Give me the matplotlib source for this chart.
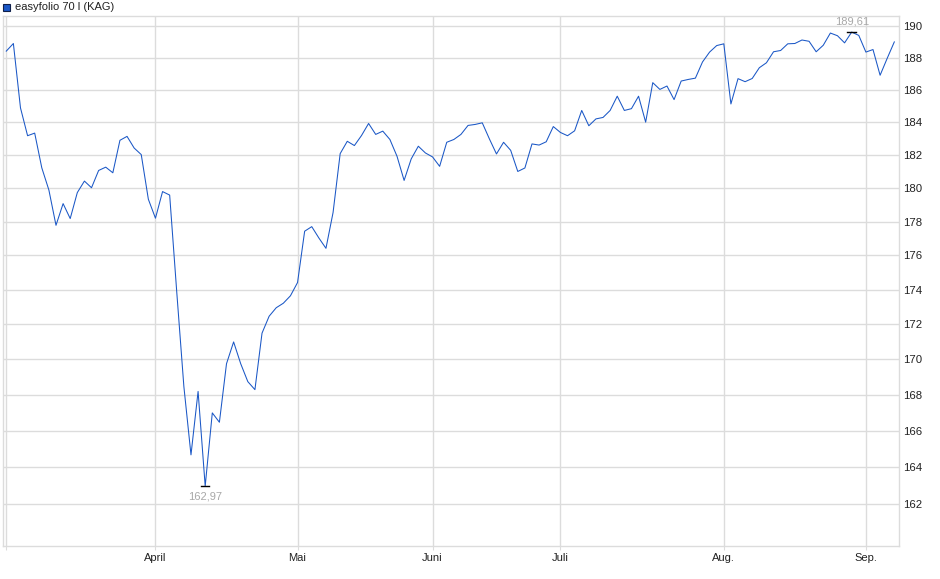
import matplotlib
matplotlib.use("Agg")
import matplotlib.pyplot as plt
from matplotlib.ticker import FixedLocator, NullLocator, FuncFormatter
import numpy as np

plt.rcParams['font.family'] = ['Liberation Sans', 'DejaVu Sans']

# ============================================================
# DATA (daily prices)
# ============================================================
prices = [
    188.41, 188.89, 184.88, 183.17, 183.33, 181.22, 179.88, 177.78, 179.07, 178.18,
    179.73, 180.42, 180.02, 181.06, 181.26, 180.92, 182.89, 183.13, 182.42, 182.02,
    179.33, 178.20, 179.79, 179.58, 173.85, 168.47, 164.68, 168.20, 162.97, 167.00,
    166.48, 169.76, 171.00, 169.76, 168.75, 168.30, 171.50, 172.47, 172.96, 173.22,
    173.65, 174.42, 177.43, 177.70, 177.03, 176.42, 178.54, 182.08, 182.83, 182.57,
    183.18, 183.92, 183.25, 183.45, 182.94, 181.92, 180.46, 181.76, 182.53, 182.12,
    181.88, 181.31, 182.77, 182.94, 183.25, 183.80, 183.86, 183.96, 182.98, 182.06,
    182.77, 182.28, 181.00, 181.21, 182.67, 182.60, 182.80, 183.73, 183.37, 183.17,
    183.47, 184.72, 183.78, 184.20, 184.29, 184.72, 185.60, 184.72, 184.83, 185.60,
    184.00, 186.44, 186.02, 186.23, 185.39, 186.54, 186.64, 186.72, 187.73, 188.35,
    188.76, 188.87, 185.12, 186.69, 186.50, 186.70, 187.37, 187.68, 188.37, 188.45,
    188.87, 188.89, 189.11, 189.03, 188.37, 188.78, 189.55, 189.38, 188.93, 189.61,
    189.40, 188.35, 188.51, 186.90, 187.96, 188.99,
]
month_pos = [0, 21, 41, 60, 78, 101, 121]
month_labels = ['', 'April', 'Mai', 'Juni', 'Juli', 'Aug.', 'Sep.']
y_ticks = list(range(162, 191, 2))
series_name = 'easyfolio 70 l (KAG)'

line_color = '#1a57c6'
grid_color = '#dcdcdc'
label_grey = '#a8a8a8'

# ============================================================
# CHART
# ============================================================
fig = plt.figure(figsize=(9.4, 5.79), dpi=100)
ax = fig.add_axes([3 / 940, 33 / 579, 896 / 940, 530 / 579])

x = np.arange(len(prices))
ax.plot(x, prices, color=line_color, linewidth=0.75)

ax.set_yscale('log')
ax.set_ylim(159.75, 190.63)
ax.set_xlim(-0.46, 125.66)

ax.yaxis.set_major_locator(FixedLocator(y_ticks))
ax.yaxis.set_minor_locator(NullLocator())
ax.yaxis.set_major_formatter(FuncFormatter(lambda v, p: f'{v:.0f}'))
ax.yaxis.tick_right()
ax.tick_params(axis='y', length=0, pad=3, labelsize=8.2, labelcolor='#222222')

ax.set_xticks(month_pos)
ax.set_xticklabels(month_labels)
ax.tick_params(axis='x', length=3, color=grid_color, pad=2, labelsize=8, labelcolor='#222222')

ax.grid(True, color=grid_color, linewidth=1)
ax.set_axisbelow(True)
for s in ax.spines.values():
    s.set_color(grid_color)
    s.set_linewidth(1)

# min / max markers
i_min = int(np.argmin(prices))
i_max = int(np.argmax(prices))
for i, off, va in [(i_min, -4, 'top'), (i_max, 4, 'bottom')]:
    ax.plot([i - 0.6, i + 0.6], [prices[i], prices[i]], color='black', linewidth=1)
    ax.annotate(f'{prices[i]:.2f}'.replace('.', ','), (i, prices[i]),
                xytext=(0, off), textcoords='offset points',
                ha='center', va=va, fontsize=8, color=label_grey)

# legend box
fig.patches.append(plt.Rectangle((3 / 940, 1 - 11 / 579), 7 / 940, 7 / 579,
                                 transform=fig.transFigure, facecolor='#1a57c6',
                                 edgecolor='#10204a', linewidth=0.8))
fig.text(15 / 940, 1 - 7.5 / 579, series_name, fontsize=8, color='#222222',
         va='center', ha='left')

plt.savefig('out.png', dpi=100, facecolor='white')
